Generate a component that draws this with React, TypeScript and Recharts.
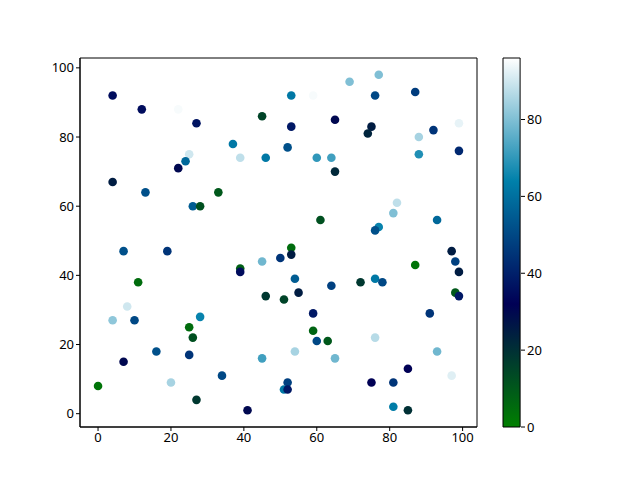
import {
  ScatterChart,
  Scatter,
  XAxis,
  YAxis,
  Cell,
  ReferenceArea,
  BarChart,
  Bar,
} from "recharts";

// scatter points: x, y and colour value
const xs = [
  4, 12, 22, 27, 25, 24, 22, 4, 69, 53, 59, 45, 65, 53, 37, 52, 39, 46, 60, 64,
  65, 77, 76, 87, 75, 74, 88, 92, 99, 88, 99, 13, 33, 26, 28, 33, 7, 19, 11, 8,
  61, 53, 53, 50, 45, 39, 39, 54, 64, 55, 46, 51, 82, 96, 81, 93, 77, 76, 97, 98,
  99, 87, 72, 76, 78, 98, 99, 4, 10, 28, 25, 26, 16, 25, 7, 0, 20, 27, 59, 59,
  63, 60, 54, 65, 45, 34, 52, 51, 52, 41, 91, 76, 93, 85, 97, 75, 81, 81, 85,
];
const ys = [
  92, 88, 88, 84, 75, 73, 71, 67, 96, 92, 92, 86, 85, 83, 78, 77, 74, 74, 74, 74,
  70, 98, 92, 93, 83, 81, 80, 82, 84, 75, 76, 64, 64, 60, 60, 57, 47, 47, 38, 31,
  56, 48, 46, 45, 44, 42, 41, 39, 37, 35, 34, 33, 61, 61, 58, 56, 54, 53, 47, 44,
  41, 43, 38, 39, 38, 35, 34, 27, 27, 28, 25, 22, 18, 17, 15, 8, 9, 4, 29, 24,
  21, 21, 18, 16, 16, 11, 9, 7, 7, 1, 29, 22, 18, 13, 11, 9, 9, 2, 1,
];
const cs = [
  35, 35, 95, 37, 90, 58, 30, 25, 80, 62, 95, 15, 30, 38, 62, 52, 88, 62, 70, 72,
  22, 80, 50, 47, 25, 23, 85, 45, 93, 68, 42, 52, 10, 55, 12, 96, 52, 45, 5, 90,
  12, 5, 25, 45, 78, 8, 35, 55, 48, 25, 18, 15, 88, 96, 80, 58, 65, 52, 25, 48,
  25, 3, 18, 62, 50, 10, 38, 82, 50, 65, 5, 12, 52, 45, 30, 3, 85, 18, 38, 7,
  10, 50, 85, 78, 72, 50, 48, 62, 38, 30, 45, 87, 78, 32, 92, 32, 45, 63, 20,
];

const xTicks = [0, 20, 40, 60, 80, 100];
const yTicks = [0, 20, 40, 60, 80, 100];
const cTicks = [0, 20, 40, 60, 80];
const cMax = 96;

const points = xs.map((x, i) => ({ x, y: ys[i], c: cs[i] }));

// matplotlib "ocean" colormap
function ocean(v: number) {
  const t = Math.max(0, Math.min(1, v / cMax));
  const r = Math.max(3 * t - 2, 0);
  const g = Math.abs(1.5 * t - 0.5);
  const b = t;
  const h = (n: number) => Math.round(n * 255).toString(16).padStart(2, "0");
  return "#" + h(r) + h(g) + h(b);
}

const font = { fontFamily: "Noto Sans", fontSize: 13, fill: "#000" };

export default function App() {
  return (
    <div style={{ position: "absolute", left: 0, top: 0, width: 640, height: 480, background: "#fff" }}>
      <div style={{ position: "absolute", left: 0, top: 0 }}>
        <ScatterChart
          width={640}
          height={480}
          margin={{ top: 58, right: 163, bottom: 23, left: 40 }}
        >
          <XAxis
            type="number"
            dataKey="x"
            domain={[-4.95, 103.95]}
            ticks={xTicks}
            allowDataOverflow
            height={30}
            tickSize={4}
            tick={font}
            stroke="#000"
          />
          <YAxis
            type="number"
            dataKey="y"
            domain={[-3.85, 102.85]}
            ticks={yTicks}
            allowDataOverflow
            width={40}
            tickSize={4}
            tick={font}
            stroke="#000"
          />
          <ReferenceArea
            x1={-4.95}
            x2={103.95}
            y1={-3.85}
            y2={102.85}
            fill="none"
            stroke="#000"
            strokeWidth={1}
            fillOpacity={0}
          />
          <Scatter
            data={points}
            isAnimationActive={false}
            shape={(p: any) => (
              <circle cx={p.cx} cy={p.cy} r={4.3} fill={p.fill} />
            )}
          >
            {points.map((p, i) => (
              <Cell key={i} fill={ocean(p.c)} />
            ))}
          </Scatter>
        </ScatterChart>
      </div>
      <div style={{ position: "absolute", left: 462, top: 0 }}>
        <BarChart
          width={125}
          height={480}
          data={[{ name: "cb", v: cMax }]}
          margin={{ top: 58, right: 0, bottom: 53, left: 40 }}
          barCategoryGap={0}
          barGap={0}
        >
          <defs>
            <linearGradient id="oceanGrad" x1="0" y1="1" x2="0" y2="0">
              <stop offset="0" stopColor="#008000" />
              <stop offset="0.3333" stopColor="#000055" />
              <stop offset="0.6667" stopColor="#0080aa" />
              <stop offset="1" stopColor="#ffffff" />
            </linearGradient>
          </defs>
          <XAxis dataKey="name" hide padding={{ left: 0, right: 0 }} />
          <YAxis
            orientation="right"
            domain={[0, cMax]}
            ticks={cTicks}
            width={66}
            tickSize={4}
            tick={font}
            stroke="#000"
            axisLine={false}
          />
          <Bar
            dataKey="v"
            barSize={19}
            fill="url(#oceanGrad)"
            stroke="#000"
            strokeWidth={1}
            isAnimationActive={false}
          />
        </BarChart>
      </div>
    </div>
  );
}
